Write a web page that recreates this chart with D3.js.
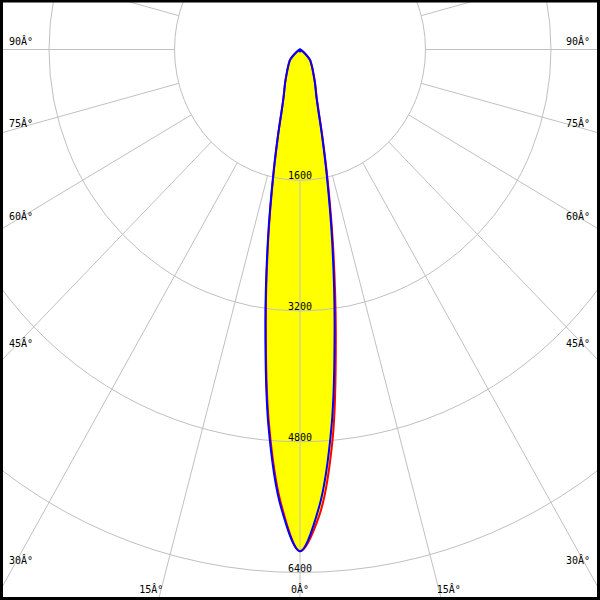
<!DOCTYPE html>
<html>
<head>
<meta charset="utf-8">
<script src="https://cdn.jsdelivr.net/npm/d3@7"></script>
<style>
html,body{margin:0;padding:0;background:#fff;}
svg{display:block;}
text{font-family:"DejaVu Sans Mono",monospace;font-size:10px;fill:#000;}
</style>
</head>
<body>
<svg id="chart" width="600" height="600"></svg>
<script>
// ---- data ----
const angles = [0,2.5,5,7.5,10,12.5,15,17.5,20,25,30,35,40,45,50,55,60,65,70,75,80,85,90];
// C90-C270 plane (blue), both halves
const blueValues = [6140,5600,4620,3380,2350,1580,1080,770,610,450,340,270,220,180,105,45,10,0,0,0,0,0,0];
// C0 (right half) and C180 (left half) plane (red)
const redRight = [6140,5700,4780,3500,2420,1620,1100,790,620,455,345,274,222,182,106,45,10,0,0,0,0,0,0];
const redLeft  = [6140,5560,4570,3340,2320,1560,1070,765,605,448,338,268,218,178,104,44,10,0,0,0,0,0,0];
const ringValues = [1600,3200,4800,6400];
const ringLabels = ["1600","3200","4800","6400"];
const rayAngles = d3.range(0, 181, 15);
const sideLabelAngles = [90,75,60,45,30];
const bottomLabelAngles = [15];
const degLabel = a => a + "Â°";

// ---- layout ----
const W = 600, H = 600;
const svg = d3.select("#chart");
const x = d3.scaleLinear().domain([-6400, 6400]).range([300 - 502, 300 + 502]);
const y = d3.scaleLinear().domain([0, 6400]).range([49.5, 49.5 + 523]);
const rad = d => d * Math.PI / 180;
const px = (a, v) => x(v * Math.sin(rad(a)));
const py = (a, v) => y(v * Math.cos(rad(a)));

const rayData = [];
rayAngles.forEach(a => { rayData.push(a); if (a !== 0 && a !== 180) rayData.push(-a); });

function drawGrid() {
  const g = svg.append("g").attr("fill", "none").attr("stroke", "#c0c0c0").attr("stroke-width", 1);
  g.selectAll("ellipse").data(ringValues).join("ellipse")
    .attr("cx", x(0)).attr("cy", y(0))
    .attr("rx", d => x(d) - x(0)).attr("ry", d => y(d) - y(0));
  g.selectAll("line").data(rayData).join("line")
    .attr("x1", a => px(a, ringValues[0])).attr("y1", a => py(a, ringValues[0]))
    .attr("x2", a => px(a, 20000)).attr("y2", a => py(a, 20000));
}

// ---- curves ----
function pts(vals, sign) {
  return angles.map((a, i) => [px(sign * a, vals[i]), py(a, vals[i])]);
}
function fullCurve(left, right) {
  const l = pts(left, -1).reverse();
  const r = pts(right, 1).slice(1);
  return l.concat(r);
}
const line = d3.line().curve(d3.curveCatmullRom.alpha(0.5));
const bluePts = fullCurve(blueValues, blueValues);
const redPts = fullCurve(redLeft, redRight);

svg.append("path").attr("d", line(redPts)).attr("fill", "#ffff00").attr("stroke", "none");
svg.append("path").attr("d", line(bluePts)).attr("fill", "#ffff00").attr("stroke", "none");

drawGrid();

svg.append("path").attr("d", line(redPts)).attr("fill", "none")
  .attr("stroke", "#ff0000").attr("stroke-width", 2).attr("stroke-linejoin", "round");
svg.append("path").attr("d", line(bluePts)).attr("fill", "none")
  .attr("stroke", "#0000ff").attr("stroke-width", 2).attr("stroke-linejoin", "round").attr("stroke-linecap", "round");
svg.append("circle").attr("cx", x(0)).attr("cy", y(0) + 1).attr("r", 2).attr("fill", "#0000ff");

// ---- ring labels ----
svg.selectAll("text.ring").data(ringValues).join("text").attr("class", "ring")
  .attr("x", x(0)).attr("y", d => y(d) - 1)
  .attr("text-anchor", "middle").text((d, i) => ringLabels[i]);

// ---- angle labels ----
const ratio = (y(1) - y(0)) / (x(1) - x(0));
function sideY(a) {
  const base = y(0) + (x(0) - 20) * ratio / Math.tan(rad(a));
  const corr = -7.5 + 13.5 * (90 - a) / 60;
  return base + corr + 3;
}
svg.selectAll("text.sl").data(sideLabelAngles).join("text").attr("class", "sl")
  .attr("x", 9).attr("y", sideY).attr("text-anchor", "start").text(degLabel);
svg.selectAll("text.sr").data(sideLabelAngles).join("text").attr("class", "sr")
  .attr("x", 590).attr("y", sideY).attr("text-anchor", "end").text(degLabel);
const bottomY = 593;
function bottomX(a, s) {
  const t = (bottomY - 4 - y(0)) / ratio * Math.tan(rad(a));
  return x(0) + s * (t + 10);
}
svg.selectAll("text.bl").data(bottomLabelAngles).join("text").attr("class", "bl")
  .attr("x", a => bottomX(a, -1)).attr("y", bottomY).attr("text-anchor", "middle").text(degLabel);
svg.selectAll("text.br").data(bottomLabelAngles).join("text").attr("class", "br")
  .attr("x", a => bottomX(a, 1)).attr("y", bottomY).attr("text-anchor", "middle").text(degLabel);
svg.append("text").attr("x", x(0)).attr("y", bottomY).attr("text-anchor", "middle").text(degLabel(0));

// ---- border ----
svg.append("rect").attr("x", 1.5).attr("y", 1).attr("width", W - 3).attr("height", H - 2.5)
  .attr("fill", "none").attr("stroke", "#000").attr("stroke-width", 3);
</script>
</body>
</html>
